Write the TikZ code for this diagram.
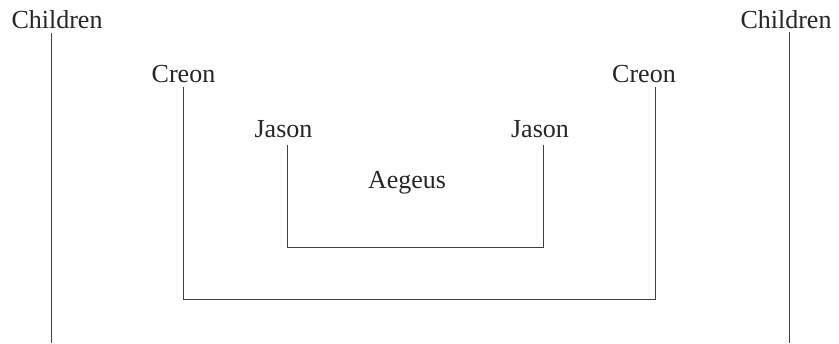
\documentclass[tikz,border=0pt]{standalone}
\usepackage{fontspec}
\setmainfont{Liberation Serif}
\begin{document}
\begin{tikzpicture}[x=0.5pt,y=-0.5pt,
  lbl/.style={anchor=base,inner sep=0pt,font=\fontsize{13pt}{15pt}\selectfont,text=black!85},
  tree/.style={draw=black!75,line width=0.5pt}]
\useasboundingbox (0,0) rectangle (839,343);
% labels
\node[lbl] (chL) at (57,28) {Children};
\node[lbl] (chR) at (786,28) {Children};
\node[lbl] (crL) at (183.5,82) {Creon};
\node[lbl] (crR) at (644,82) {Creon};
\node[lbl] (jaL) at (283.5,137) {Jason};
\node[lbl] (jaR) at (540,137) {Jason};
\node[lbl] (ae) at (407,188) {Aegeus};
% line ends
\coordinate (chLt) at (51.7,33);
\coordinate (chLb) at (51.7,343);
\coordinate (chRt) at (789.5,32);
\coordinate (chRb) at (789.5,343);
\coordinate (crLt) at (183.5,87);
\coordinate (crRt) at (655.5,87);
\coordinate (crY) at (0,299);
\coordinate (jaLt) at (287,145);
\coordinate (jaRt) at (543,145);
\coordinate (jaY) at (0,247);
% connectors
\draw[tree] (chLt) -- (chLb);
\draw[tree] (chRt) -- (chRb);
\draw[tree] (crLt) -- (crLt |- crY) -- (crRt |- crY) -- (crRt);
\draw[tree] (jaLt) -- (jaLt |- jaY) -- (jaRt |- jaY) -- (jaRt);
\end{tikzpicture}
\end{document}
